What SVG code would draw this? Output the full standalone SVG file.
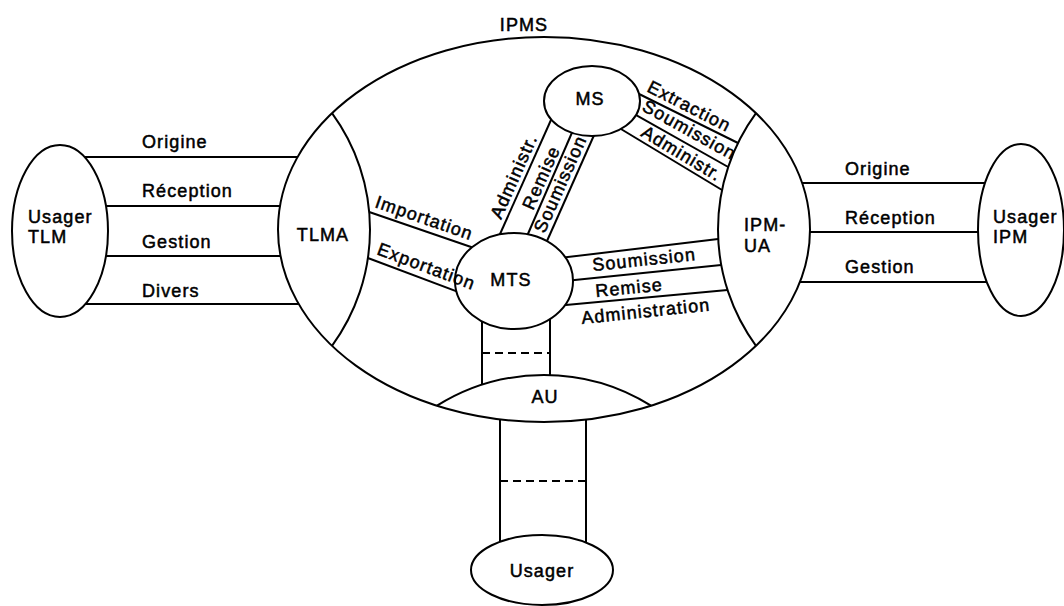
<svg xmlns="http://www.w3.org/2000/svg" width="1064" height="606" viewBox="0 0 1064 606">
<style>
.s{fill:none;stroke:#000;stroke-width:2}
.n{fill:#fff;stroke:#000;stroke-width:2}
.d{fill:none;stroke:#000;stroke-width:2;stroke-dasharray:8 5}
text{font-family:"Liberation Sans",Arial,sans-serif;font-size:18px;letter-spacing:1.1px;fill:#000;stroke:#000;stroke-width:0.5}
.m{text-anchor:middle}
</style>
<rect width="1064" height="606" fill="#fff"/>
<g id="IPMS">
<ellipse class="s" cx="544" cy="229.5" rx="266" ry="192.5"/>
<text class="m" x="524" y="31">IPMS</text>
</g>
<g id="TLMA">
<path class="s" d="M332,113.2 A197,197 0 0 1 332,345.8"/>
<text class="m" x="323" y="241">TLMA</text>
</g>
<g id="IPM-UA">
<path class="s" d="M756,113.2 A197,197 0 0 0 756,345.8"/>
<text x="744" y="231">IPM-</text>
<text x="744" y="252">UA</text>
</g>
<g id="AU">
<path class="s" d="M437,405.7 A202,202 0 0 1 651,405.7"/>
<text class="m" x="545" y="403">AU</text>
</g>
<g id="connectors">
<line class="s" x1="84.5" y1="157" x2="297.6" y2="157"/>
<line class="s" x1="105.9" y1="206" x2="280" y2="206"/>
<line class="s" x1="105.9" y1="256" x2="280.5" y2="256"/>
<line class="s" x1="85.4" y1="304" x2="298.7" y2="304"/>
<line class="s" x1="802" y1="183" x2="985" y2="183"/>
<line class="s" x1="810" y1="232" x2="978" y2="232"/>
<line class="s" x1="800" y1="282" x2="986.7" y2="282"/>
<line class="s" x1="369.2" y1="212" x2="482" y2="250.7"/>
<line class="s" x1="367.9" y1="258" x2="466" y2="294.9"/>
<line class="s" x1="555" y1="258.6" x2="718.2" y2="239"/>
<line class="s" x1="560" y1="281.5" x2="721.2" y2="265"/>
<line class="s" x1="555" y1="306.1" x2="727.5" y2="290"/>
<line class="s" x1="630" y1="89.5" x2="738" y2="143"/>
<line class="s" x1="626" y1="109.4" x2="728.2" y2="167"/>
<line class="s" x1="611" y1="123" x2="722" y2="190"/>
<line class="s" x1="496" y1="243" x2="555" y2="111"/>
<line class="s" x1="524" y1="243" x2="574" y2="128"/>
<line class="s" x1="543" y1="250" x2="595" y2="133"/>
<line class="s" x1="482" y1="300" x2="482" y2="384.8"/>
<line class="s" x1="550" y1="300" x2="550" y2="375.1"/>
<line class="d" x1="482" y1="353" x2="550" y2="353"/>
<line class="s" x1="500" y1="419.4" x2="500" y2="550"/>
<line class="s" x1="586" y1="419.6" x2="586" y2="550"/>
<line class="d" x1="500" y1="481" x2="586" y2="481"/>
</g>
<g id="UsagerTLM">
<ellipse class="n" cx="60" cy="231" rx="48" ry="86"/>
<text x="28" y="223">Usager</text>
<text x="28" y="243">TLM</text>
</g>
<g id="UsagerIPM">
<ellipse class="n" cx="1021" cy="230" rx="43" ry="86"/>
<text x="993" y="223">Usager</text>
<text x="993" y="243">IPM</text>
</g>
<g id="MS">
<ellipse class="n" cx="592" cy="101" rx="48" ry="35"/>
<text class="m" x="590" y="105">MS</text>
</g>
<g id="MTS">
<ellipse class="n" cx="514" cy="281" rx="59" ry="48"/>
<text class="m" x="511" y="286">MTS</text>
</g>
<g id="Usager">
<ellipse class="n" cx="542" cy="570" rx="71" ry="35"/>
<text class="m" x="542" y="577">Usager</text>
</g>
<g id="labels">
<text x="142" y="148">Origine</text>
<text x="142" y="197">Réception</text>
<text x="142" y="248">Gestion</text>
<text x="142" y="297">Divers</text>
<text x="845" y="175">Origine</text>
<text x="845" y="224">Réception</text>
<text x="845" y="273">Gestion</text>
<text transform="translate(374,207) rotate(19)">Importation</text>
<text transform="translate(376,254) rotate(20.5)">Exportation</text>
<text transform="translate(593,271) rotate(-6)">Soumission</text>
<text transform="translate(596,297) rotate(-5.5)">Remise</text>
<text transform="translate(582,324) rotate(-6)">Administration</text>
<text transform="translate(501,220) rotate(-66)">Administr.</text>
<text transform="translate(533,211) rotate(-66)">Remise</text>
<text transform="translate(544.6,234) rotate(-66)">Soumission</text>
<text transform="translate(646,91) rotate(27)">Extraction</text>
<text transform="translate(641,110) rotate(29)">Soumission</text>
<text transform="translate(640,135.5) rotate(31)">Administr.</text>
</g>
</svg>
